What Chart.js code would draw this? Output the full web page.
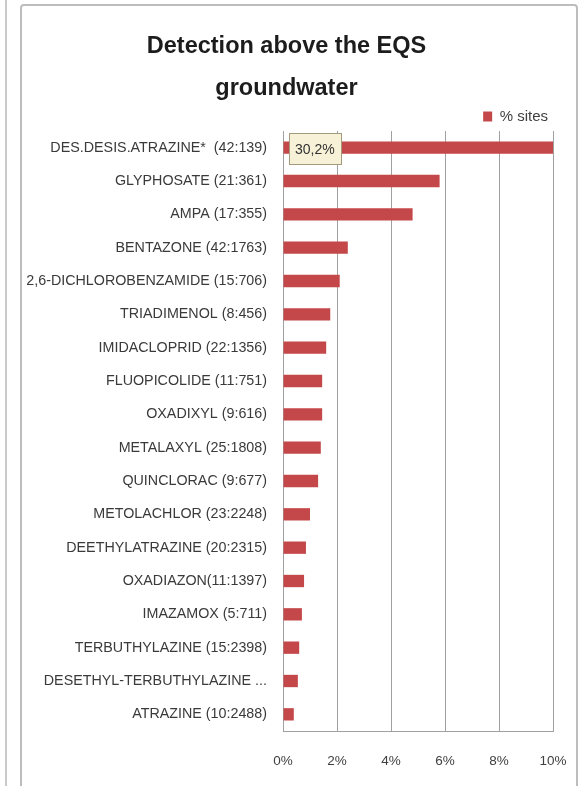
<!DOCTYPE html>
<html>
<head>
<meta charset="utf-8">
<title>Detection above the EQS groundwater</title>
<script src="https://cdn.jsdelivr.net/npm/chart.js@4.4.0/dist/chart.umd.min.js"></script>
<style>
  html, body { margin: 0; padding: 0; background: #fff; }
  #wrap { position: relative; width: 580px; height: 786px; overflow: hidden; }
  #side { position: absolute; left: 5px; top: 0; width: 2px; height: 786px; background: #cacaca; }
  #frame { position: absolute; left: 20px; top: 4px; width: 554px; height: 820px; border: 2px solid #bdbdbd; border-radius: 4px; }
  #chart { position: absolute; left: 0; top: 0; }
</style>
</head>
<body>
<div id="wrap">
  <div id="side"></div>
  <div id="frame"></div>
  <canvas id="chart" width="580" height="786"></canvas>
</div>
<script>
// substances with (detections above EQS : sites sampled)
const substances = [
    'DES.DESIS.ATRAZINE*  (42:139)',
    'GLYPHOSATE (21:361)',
    'AMPA (17:355)',
    'BENTAZONE (42:1763)',
    '2,6-DICHLOROBENZAMIDE (15:706)',
    'TRIADIMENOL (8:456)',
    'IMIDACLOPRID (22:1356)',
    'FLUOPICOLIDE (11:751)',
    'OXADIXYL (9:616)',
    'METALAXYL (25:1808)',
    'QUINCLORAC (9:677)',
    'METOLACHLOR (23:2248)',
    'DEETHYLATRAZINE (20:2315)',
    'OXADIAZON(11:1397)',
    'IMAZAMOX (5:711)',
    'TERBUTHYLAZINE (15:2398)',
    'DESETHYL-TERBUTHYLAZINE ...',
    'ATRAZINE (10:2488)'
];

// % sites above EQS
const siteShare = [30.2, 5.8, 4.8, 2.4, 2.1, 1.75, 1.6, 1.45, 1.45, 1.4, 1.3, 1.0, 0.85, 0.78, 0.7, 0.6, 0.55, 0.4];

const xTickValues = [0, 2, 4, 6, 8, 10];

const FONT = '"Liberation Sans", Arial, sans-serif';

// the tag on the first bar, which runs off the axis
const valueTag = {
    id: 'valueTag',
    afterDatasetsDraw(chart) {
        const bar = chart.getDatasetMeta(0).data[0];
        const ctx = chart.ctx;
        const text = siteShare[0].toFixed(1).replace('.', ',') + '%';
        ctx.save();
        ctx.font = '14px ' + FONT;
        const w = Math.round(ctx.measureText(text).width) + 12;
        const x = Math.round(bar.base) + 5;
        const y = Math.round(bar.y) - 15;
        ctx.fillStyle = '#f7f2d7';
        ctx.fillRect(x, y, w, 31);
        ctx.strokeStyle = '#a39b7e';
        ctx.lineWidth = 1;
        ctx.strokeRect(x + 0.5, y + 0.5, w, 31);
        ctx.fillStyle = '#333';
        ctx.textBaseline = 'middle';
        ctx.fillText(text, x + 6, bar.y + 2);
        ctx.restore();
    }
};

new Chart(document.getElementById('chart'), {
    type: 'bar',
    data: {
        labels: substances,
        datasets: [{
            label: '% sites',
            data: siteShare,
            backgroundColor: '#c4474a',
            barPercentage: 0.37,
            categoryPercentage: 1,
            clip: 0
        }]
    },
    options: {
        indexAxis: 'y',
        responsive: false,
        animation: false,
        events: [],
        layout: {
            padding: { left: 20, right: 27, top: 0, bottom: 17 }
        },
        plugins: {
            title: {
                display: true,
                text: ['Detection above the EQS', 'groundwater'],
                color: '#1c1c1c',
                font: { family: FONT, size: 23.5, weight: 'bold', lineHeight: 42 / 23.5 },
                padding: { top: 26, bottom: -6 }
            },
            legend: {
                position: 'top',
                align: 'end',
                maxHeight: 27,
                labels: {
                    boxWidth: 9,
                    boxHeight: 10,
                    padding: 5,
                    color: '#404040',
                    font: { family: FONT, size: 15 }
                }
            },
            tooltip: { enabled: false }
        },
        scales: {
            x: {
                min: 0,
                max: 10,
                afterBuildTicks: s => { s.ticks = xTickValues.map(v => ({ value: v })); },
                afterFit: s => { s.height = 38; s.paddingLeft = 0; s.paddingRight = 0; },
                grid: { color: '#a0a0a0', lineWidth: 1, drawTicks: false },
                border: { display: true, color: '#a0a0a0' },
                ticks: {
                    padding: 22,
                    color: '#404040',
                    font: { family: FONT, size: 13.5 },
                    callback: v => v + '%'
                }
            },
            y: {
                afterFit: s => { s.width = 263; },
                grid: { display: false, drawTicks: false },
                border: { display: true, color: '#a0a0a0' },
                ticks: {
                    padding: 16,
                    autoSkip: false,
                    color: '#3a3a3a',
                    font: { family: FONT, size: 14.3 }
                }
            }
        }
    },
    plugins: [valueTag]
});
</script>
</body>
</html>
